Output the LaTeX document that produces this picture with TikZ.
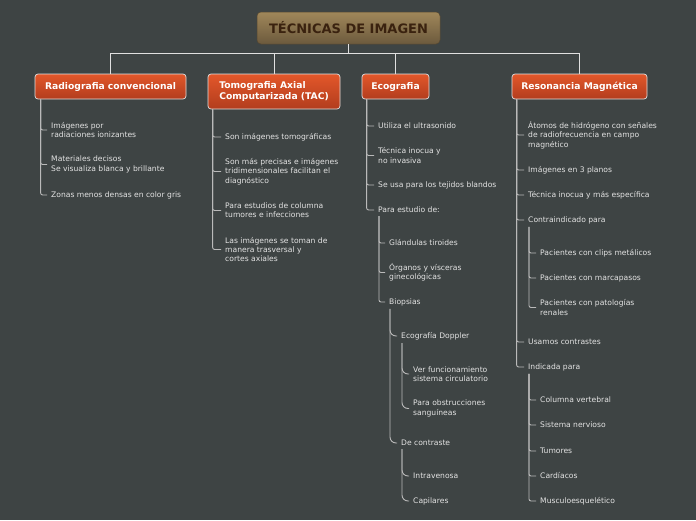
\documentclass[tikz,border=0pt]{standalone}
\usepackage{fontspec}
\setmainfont{DejaVu Sans}
\definecolor{bg}{HTML}{3E4444}
\definecolor{orTop}{HTML}{E3572A}
\definecolor{orBot}{HTML}{B23D1E}
\definecolor{brTop}{HTML}{A0875A}
\definecolor{brBot}{HTML}{6C5A3D}
\definecolor{brTxt}{HTML}{3A220F}
\definecolor{itemtxt}{HTML}{E4E4E4}
\definecolor{linec}{HTML}{BABABA}
\definecolor{hdrline}{HTML}{E0E0E0}
\newcommand\itemfont{\fontsize{7.6}{9.3}\selectfont}
\newcommand\hdrfont{\fontsize{9.2}{11}\selectfont\bfseries}
\newcommand\rootfont{\fontsize{13}{15}\selectfont\bfseries}
\tikzset{
  item/.style={anchor=west, inner sep=0pt, align=left, font=\itemfont, text=itemtxt, yshift=-1pt},
  conn/.style={draw=linec, line width=0.9pt, rounded corners=2pt, shorten >=4pt},
  subconn/.style={conn, shorten <=3pt},
  curvconn/.style={subconn, rounded corners=6pt},
  hdr/.style={draw=hdrline, line width=0.7pt, rounded corners=3pt, top color=orTop, bottom color=orBot, text=white, font=\hdrfont, inner sep=0pt, align=left},
  rootbox/.style={draw=brBot!80!black, line width=0.5pt, rounded corners=4pt, top color=brTop, bottom color=brBot, text=brTxt, font=\rootfont, inner sep=0pt},
  topconn/.style={draw=hdrline, line width=1pt},
}
\begin{document}
\begin{tikzpicture}[x=1pt,y=-1pt]
\useasboundingbox (0,0) rectangle (696,520);
\fill[bg] (0,0) rectangle (696,520);

% root and headers
\node[rootbox, minimum width=183pt, minimum height=32pt] (root) at (348.5,28) {TÉCNICAS DE IMAGEN};
\node[hdr, minimum width=151pt, minimum height=25pt] (rad) at (110.5,86.5) {Radiografia convencional};
\node[hdr, minimum width=132pt, minimum height=35pt] (tac) at (274,91.5) {Tomografia Axial\\Computarizada (TAC)};
\node[hdr, minimum width=67pt, minimum height=25pt] (eco) at (395.5,86.5) {Ecografia};
\node[hdr, minimum width=135pt, minimum height=25pt] (res) at (579.5,86.5) {Resonancia Magnética};

\draw[topconn] (root.south) -- ++(0,9) -| (rad.north);
\draw[topconn] (root.south) -- ++(0,9) -| (tac.north);
\draw[topconn] (root.south) -- ++(0,9) -| (eco.north);
\draw[topconn] (root.south) -- ++(0,9) -| (res.north);

% Radiografia
\node[item] (r1) at (51,129) {Imágenes por\\radiaciones ionizantes};
\node[item] (r2) at (51,163.5) {Materiales decisos\\Se visualiza blanca y brillante};
\node[item] (r3) at (51,194) {Zonas menos densas en color gris};
\foreach \n in {r1,r2,r3} \draw[conn] ([xshift=6pt]rad.south west) |- (\n.west);

% TAC
\node[item] (t1) at (225,136) {Son imágenes tomográficas};
\node[item] (t2) at (225,170.5) {Son más precisas e imágenes\\tridimensionales facilitan el\\diagnóstico};
\node[item] (t3) at (225,209.5) {Para estudios de columna\\tumores e infecciones};
\node[item] (t4) at (225,248.5) {Las imágenes se toman de\\manera trasversal y\\cortes axiales};
\foreach \n in {t1,t2,t3,t4} \draw[conn] ([xshift=5pt]tac.south west) |- (\n.west);

% Ecografia
\node[item] (e1) at (378,125) {Utiliza el ultrasonido};
\node[item] (e2) at (378,154.5) {Técnica inocua y\\no invasiva};
\node[item] (e3) at (378,184) {Se usa para los tejidos blandos};
\node[item] (e4) at (378,209) {Para estudio de:};
\foreach \n in {e1,e2,e3,e4} \draw[conn] ([xshift=5pt]eco.south west) |- (\n.west);

\node[item] (e41) at (389,242) {Glándulas tiroides};
\node[item] (e42) at (389,271.5) {Órganos y vísceras\\ginecológicas};
\node[item] (e43) at (389,301) {Biopsias};
\foreach \n in {e41,e42,e43} \draw[subconn] ([xshift=1pt]e4.south west) |- (\n.west);

\node[item] (e431) at (401,335) {Ecografía Doppler};
\node[item] (e432) at (401,442) {De contraste};
\foreach \n in {e431,e432} \draw[curvconn] ([xshift=1pt]e43.south west) |- (\n.west);

\node[item] (d1) at (413,373) {Ver funcionamiento\\sistema circulatorio};
\node[item] (d2) at (413,407.5) {Para obstrucciones\\sanguíneas};
\foreach \n in {d1,d2} \draw[curvconn] ([xshift=1pt]e431.south west) |- (\n.west);

\node[item] (c1) at (413,475) {Intravenosa};
\node[item] (c2) at (413,500) {Capilares};
\foreach \n in {c1,c2} \draw[curvconn] ([xshift=1pt]e432.south west) |- (\n.west);

% Resonancia
\node[item] (m1) at (528,134) {Átomos de hidrógeno con señales\\de radiofrecuencia en campo\\magnético};
\node[item] (m2) at (528,169) {Imágenes en 3 planos};
\node[item] (m3) at (528,194) {Técnica inocua y más específica};
\node[item] (m4) at (528,219) {Contraindicado para};
\node[item] (m5) at (528,341) {Usamos contrastes};
\node[item] (m6) at (528,366) {Indicada para};
\foreach \n in {m1,m2,m3,m4,m5,m6} \draw[conn] ([xshift=5pt]res.south west) |- (\n.west);

\node[item] (p1) at (540,252) {Pacientes con clips metálicos};
\node[item] (p2) at (540,277) {Pacientes con marcapasos};
\node[item] (p3) at (540,306.5) {Pacientes con patologías\\renales};
\foreach \n in {p1,p2,p3} \draw[subconn] ([xshift=1pt]m4.south west) |- (\n.west);

\node[item] (i1) at (540,399) {Columna vertebral};
\node[item] (i2) at (540,424) {Sistema nervioso};
\node[item] (i3) at (540,450) {Tumores};
\node[item] (i4) at (540,475) {Cardíacos};
\node[item] (i5) at (540,500) {Musculoesquelético};
\foreach \n in {i1,i2,i3,i4,i5} \draw[subconn] ([xshift=1pt]m6.south west) |- (\n.west);
\end{tikzpicture}
\end{document}
